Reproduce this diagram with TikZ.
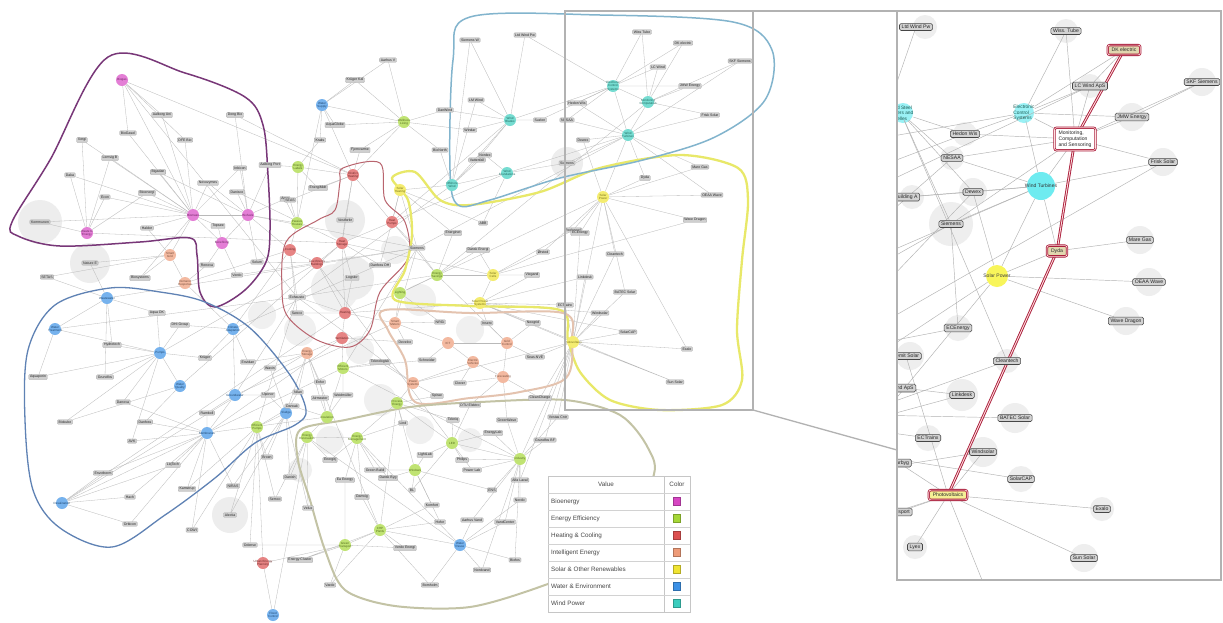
\documentclass[tikz,border=0pt]{standalone}
\usepackage{fontspec}
\setmainfont{Liberation Sans}
\pgfdeclarelayer{back}
\pgfdeclarelayer{bg}
\pgfdeclarelayer{hullay}
\pgfsetlayers{back,bg,hullay,main}
\definecolor{cbio}{RGB}{215,70,195}
\definecolor{ceff}{RGB}{165,215,55}
\definecolor{cheat}{RGB}{220,80,80}
\definecolor{cint}{RGB}{238,155,120}
\definecolor{csol}{RGB}{240,228,50}
\definecolor{cwat}{RGB}{60,145,230}
\definecolor{cwin}{RGB}{60,205,190}
\definecolor{cwinp}{RGB}{110,235,240}
\definecolor{csolp}{RGB}{248,245,90}
\definecolor{hbio}{RGB}{120,55,120}
\definecolor{hwat}{RGB}{95,130,180}
\definecolor{hheat}{RGB}{185,100,110}
\definecolor{hsol}{RGB}{232,232,105}
\definecolor{hwin}{RGB}{130,180,205}
\definecolor{hint}{RGB}{228,195,175}
\definecolor{heff}{RGB}{195,195,165}
\definecolor{redbox}{RGB}{170,30,60}
\definecolor{beige}{RGB}{225,215,175}
\definecolor{pvyel}{RGB}{245,240,150}
\begin{document}
\begin{tikzpicture}[x=1pt,y=-1pt,
 gn/.style={draw=gray!70, line width=0.3pt, fill=gray!38, rounded corners=0.8pt, font=\fontsize{3.5}{3.8}\selectfont, inner xsep=1.2pt, inner ysep=0.9pt, text=black!85},
 lnk/.style={draw=gray!55, line width=0.3pt},
 hub/.style={circle, inner sep=0pt, minimum size=12pt},
 hubtxt/.style={font=\fontsize{3}{3.4}\selectfont, align=center, inner sep=0pt},
 pn/.style={draw=gray!55!black, line width=0.55pt, fill=gray!35, rounded corners=1.5pt, font=\fontsize{5.1}{5.6}\selectfont, inner xsep=2.2pt, inner ysep=1.6pt, text=black!85},
 plnk/.style={draw=gray!60, line width=0.45pt},
 rb/.style={draw=redbox, line width=0.8pt, double=pink!50, double distance=0.7pt, rounded corners=2pt, font=\fontsize{5.1}{5.9}\selectfont, inner xsep=4pt, inner ysep=3pt, text=black!85, align=left},
 zl/.style={draw=gray!60, line width=1.3pt},
 lg/.style={font=\fontsize{6.3}{7}\selectfont, text=gray!55!black, inner sep=0pt, anchor=west}
]
\useasboundingbox (0,0) rectangle (1223,622);
\begin{pgfonlayer}{back}
\fill[white] (0,0) rectangle (1223,622);
\foreach \x/\y/\r in {335/288/24, 300/330/16, 262/315/14, 395/250/14, 420/300/16, 470/330/14, 380/400/16, 330/440/14, 420/430/14, 300/470/12, 470/440/12, 360/350/14}
 \fill[gray!12] (\x,\y) circle[radius=\r pt];
\end{pgfonlayer}

% ---------- hubs ----------
\foreach \n/\x/\y/\cc/\lab in {
b1/122/80/cbio/Biogas, b2/193/215/cbio/Biomass, b3/248/215/cbio/Biofuels, b4/222/243/cbio/Biorefining, b5/87/233/cbio/{Waste to\\Energy},
h1/353/175/cheat/{District\\Heating}, h2/392/222/cheat/{Heat\\Pumps}, h3/342/243/cheat/{Heat\\Storage}, h4/290/250/cheat/Cooling, h5/317/263/cheat/{Low-Energy\\Buildings}, h6/345/313/cheat/Heating, h7/342/338/cheat/Ventilation, h8/263/563/cheat/{Urban Energy\\Planning},
i1/170/255/cint/{Smart\\Grid}, i2/185/283/cint/{Demand\\Response}, i3/307/353/cint/{Energy\\Storage}, i4/395/323/cint/{Smart\\Meters}, i5/448/343/cint/ICT, i6/507/343/cint/{Grid\\Control}, i7/473/362/cint/{Electric\\Vehicles}, i8/503/377/cint/Forecasting, i9/413/383/cint/{Power\\Systems},
e1/437/275/ceff/{Energy\\Savings}, e2/343/368/ceff/{Efficient\\Motors}, e3/400/293/ceff/Lighting, e4/397/403/ceff/{Process\\Energy}, e5/327/417/ceff/Insulation, e6/307/437/ceff/{Energy\\Renovation}, e7/357/438/ceff/{Energy\\Management}, e8/452/443/ceff/LED, e9/404/122/ceff/{Wellness\\Living}, e10/298/167/ceff/{Energy\\Labels}, e11/297/223/ceff/{Passive\\Houses}, e12/257/427/ceff/{Efficient\\Pumps}, e14/520/459/ceff/Industry, e15/380/530/ceff/{CHP\\Plants}, e16/345/545/ceff/{Green\\Transport}, e17/415/470/ceff/Windows,
s1/400/190/csol/{Solar\\Heating}, s2/493/275/csol/{Solar\\Cells}, s3/480/303/csol/{Solar Power\\Systems}, s4/573/342/csol/Photovoltaics, s5/603/197/csol/{Solar\\Power},
w1/322/105/cwat/{Water\\Supply}, w2/107/298/cwat/Wastewater, w3/55/329/cwat/{Water\\Treatment}, w4/160/353/cwat/Pumps, w5/180/386/cwat/{Water\\Quality}, w6/233/329/cwat/{Climate\\Adaptation}, w7/235/395/cwat/Groundwater, w8/286/413/cwat/Sludge, w9/207/433/cwat/Membranes, w10/62/503/cwat/Desalination, w11/273/615/cwat/{Flood\\Control}, w12/460/545/cwat/{Water\\Reuse},
c1/452/185/cwin/{Offshore\\Wind}, c2/507/173/cwin/{Wind\\Foundations}, c3/613/86/cwin/{Electronic\\Control\\Systems}, c4/648/102/cwin/{Monitoring\\Computation}, c5/628/135/cwin/{Wind\\Turbines}, c6/510/120/cwin/{Wind\\Blades}}
{
 \node[hub, fill=\cc!70] (\n) at (\x,\y) {};
 \node[hubtxt, text=\cc!50!black] at (\n) {\lab};
}

% ---------- gray nodes ----------
\foreach \x/\y/\na/\nb/\lab/\hs [count=\i] in {
162/115/b2/b1/Aalborg Uni/0, 235/115/b3/h1/Dong Bio/0, 128/133/b2/b1/BioGasol/0, 82/140/b2/b5/Xergi/0, 185/140/b2/b1/DFE Bio/0, 110/158/b2/b5/Lemvig B/0, 158/172/b2/b3/Bigadan/0, 70/175/b2/b5/Daka/0, 208/183/b2/b3/Novozymes/0, 240/168/b3/b2/Inbicon/0, 147/193/b2/b5/Bioenergi/0, 237/192/b3/h3/Danisco/0, 105/197/b5/b2/Econ/0, 40/222/b5/b2/Kommunen/22, 147/228/b2/i1/Haldor/0, 218/226/b2/b4/Topsøe/0, 90/263/i1/w2/Nature E/20, 47/277/i1/w2/SETAS/0, 140/278/i1/b2/Biosystems/0, 207/265/b4/i2/Renova/0, 237/275/b4/h5/Verdo/0, 257/262/b3/h5/Solum/0, 285/199/b3/e11/Agro/0,
157/313/w4/w2/Aqua DK/0, 180/325/w4/w6/DHI Group/0, 112/345/w2/w4/Hydrotech/0, 38/377/w4/w3/Aquaporin/0, 105/377/w2/w4/Grundfos/0, 205/358/w6/w4/Krüger/0, 248/362/w6/i3/Envidan/0, 123/402/w4/w9/Danova/0, 65/422/w5/w4/Biokube/0, 145/422/w9/w5/Danfoss/0, 207/413/w9/w7/Ramboll/0, 132/441/w9/w4/AVK/0, 173/465/w9/w10/LiqTech/0, 103/473/w10/w9/Envotherm/0, 130/497/w9/w10/Hach/0, 187/489/w9/e12/Kamstrup/0, 233/486/w8/w9/NIRAS/0, 130/524/w10/w9/Orbicon/0, 192/530/w9/e12/COWI/0, 230/515/w8/e12/Alectia/18, 267/457/e12/w8/Broen/0, 290/477/w8/e6/Danish/0, 275/499/e12/e6/Semco/0, 308/508/e6/w8/Velux/0, 270/368/w8/i3/Wavin/0, 268/395/w8/w7/Uponor/0, 298/392/i3/w8/Nilan/0,
318/188/h1/e10/EnergiMidt/0, 290/200/h1/e11/SEAS/0, 345/220/h1/h3/Vestforbr/20, 453/233/s1/e1/Energinet/0, 483/223/c2/s1/ABB/0, 417/248/h2/e1/Siemens/0, 478/250/e1/s2/Dansk Energi/0, 543/252/s2/s5/Ørsted/0, 380/265/h3/h2/Danfoss DH/0, 352/278/h3/h6/Logstor/22, 532/275/s2/s3/Viegand/0, 297/297/h4/h6/Exhausto/0, 297/313/h4/h6/Sweco/0, 440/322/i4/e3/NRGi/0, 487/323/s3/i6/Insero/0, 533/323/s3/i6/Neogrid/0, 573/230/s5/s2/Rockwool/0, 477/160/c1/c6/Vattenfall/0, 405/342/i4/h7/Develco/0, 427/360/i5/e2/Schneider/0, 535/357/i6/s4/Seas-NVE/0, 380/362/e2/i9/Teknologisk/0, 320/382/i3/e5/Enfor/0, 343/395/e2/e5/Weidmüller/0, 437/396/i9/e4/Spirae/0, 460/383/i7/i8/Clever/0, 540/398/i8/s4/CleanCharge/0, 470/405/e8/i8/DTU Elektro/0, 453/420/e8/e4/Tekniq/0, 507/420/e14/i8/GreenWave/0, 403/423/e4/e7/Lind/0, 493/433/e8/e14/EnergyLab/0, 558/417/s4/e14/Vestas Cntr/0, 292/406/e5/e12/Danvak/0, 320/398/e5/i3/Airmaster/0,
320/140/w1/e10/Kraks/0, 360/150/h1/e9/Fjernvarme/0, 440/150/e9/c1/BioNorth/0, 470/130/c6/e9/Windar/0, 445/110/e9/c6/DanWind/0, 335/125/w1/e9/AquaGlobe/0, 388/60/e9/w1/Aarhus V/0, 355/80/w1/e9/Krüger Kal/0, 270/165/e10/b3/Aalborg Port/0,
470/40/c6/c1/Siemens W/0, 525/35/c6/c3/Ltd Wind Pw/0, 476/100/c6/c1/LM Wind/0, 485/155/c1/c2/Nordex/0, 540/120/c6/c3/Suzlon/0, 642/32/c3/c4/Wiss Tube/0, 683/43/c4/c3/DK electric/0, 740/61/c4/c5/SKF Siemens/0, 658/67/c3/c4/LC Wind/0, 690/86/c4/c3/JMW Energy/0, 577/103/c3/c5/Hedon Wis/0, 567/120/c5/c3/NESAA/0, 710/115/c4/c5/Frisk Solar/0, 583/140/c5/s5/Dewex/0, 567/163/c5/c2/Siemens/16,
645/178/c5/s5/Dyda/0, 700/167/s5/c5/Mare Gas/0, 712/195/s5/c5/OEAA Wave/0, 695/220/s5/s2/Wave Dragon/0, 580/233/s5/s4/ECEnergy/0, 615/254/s4/s5/Cleantech/0, 585/277/s4/s3/Linkdesk/0, 625/292/s4/s5/BATEC Solar/0, 600/313/s4/s3/Windsolar/0, 628/332/s4/s3/SolarCAP/0, 687/349/s4/s5/Exalo/0, 675/382/s4/s3/Sun Solar/0, 565/305/s3/s4/ECTrainx/0,
330/460/e6/e7/Energitj/0, 345/480/e7/e16/Ea Energy/0, 362/497/e7/e15/Damvig/0, 388/478/e17/e7/Dansk Byg/0, 412/490/e17/e8/BL/0, 432/505/e17/e15/Komfort/0, 472/470/e8/e14/Power Lab/0, 492/490/e14/e17/ENS/0, 440/522/e15/e17/Hofor/0, 472/520/e14/w12/Aarhus Vand/0, 505/522/e14/w12/VandCenter/0, 405/548/e15/e16/Verdo Energi/0, 430/585/e15/w12/Bornholm/0, 482/570/w12/e14/Nordvand/0, 515/560/w12/e14/Biofos/0, 375/470/e7/e17/Green Build/0, 425/455/e8/e17/LightLab/0, 462/460/e8/e14/Philips/0, 250/545/e16/e12/Odense/0, 300/560/e16/e15/Energy Cluster/0, 330/585/e16/e15/Varde/0, 520/480/e14/s4/Alfa Laval/0, 545/440/e14/s4/Grundfos BF/0, 520/500/e14/w12/Nordic/0}
{
 \node[gn] (g\i) at (\x,\y) {\lab};
 \ifnum\hs>0 \begin{pgfonlayer}{back}\fill[gray!14] (\x,\y) circle[radius=\hs pt];\end{pgfonlayer}\fi
 \begin{pgfonlayer}{bg}\draw[lnk] (g\i) -- (\na) (g\i) -- (\nb);\end{pgfonlayer}
}

% ---------- extra connections ----------
\begin{pgfonlayer}{bg}
\foreach \p/\q in {h1/h2, h1/h3, h2/h3, h3/h5, h4/h5, h5/h6, h6/h7, h3/h6, h2/e1, h2/s1, h6/i4, h7/i3, h7/e2, i4/i5, i5/i6, i5/i7, i6/i8, i7/i8, i9/e4, i4/e3, e1/s2, s2/s3, s3/s4, s1/c1, c1/c2, c2/c5, c5/c3, c3/c4, c4/c5, s5/c5, s5/s4, w6/w7, w7/w9, w4/w5, w2/w3, w3/w4, w9/w10, b2/b3, b2/b4, b3/b4, b1/b2, i1/i2, i1/b2, i2/w6, w6/h4, h4/b3, e10/e11, e11/h4, e2/e5, e5/e6, e6/e7, e7/e4, e4/e8, e8/e14, e14/s4, e17/e4, e15/e16, e16/h8, h8/w11, w11/e6, w12/e15, e12/w8, e9/w1, e9/h1, w1/h1, s1/h2, i3/w8, e3/e1, e3/h6, c6/c1, c6/c3, i9/i7, h1/e10, b3/e11, g56/h5, g56/i4, g56/w6, g56/e2, g56/b3, g56/s1, g62/w7, g62/e12, g62/i9, g62/e1, h3/w5, h5/w4, h2/c2, h6/s3, e1/i6, e2/w9, h1/b1, h3/b5, i3/w10, e7/w12, i9/s4, e3/s5, e4/e15, h4/i2, e5/w9, e12/h8, g62/w3, g56/w2, h6/w10, e2/e14, h5/e8, g62/c1, g56/c5, h3/s2, i3/e15, e6/w12, g62/b1, h2/c6, e1/c4, i4/w7, h7/w9, e11/w1}
 \draw[lnk] (\p) -- (\q);
\end{pgfonlayer}

% ---------- hulls ----------
\begin{pgfonlayer}{hullay}
\draw[hbio, line width=1.5pt] plot[smooth cycle, tension=0.55] coordinates {(108,57) (185,73) (245,97) (263,125) (268,175) (270,230) (266,262) (245,290) (215,307) (200,292) (197,255) (190,238) (140,242) (60,246) (18,236) (12,222) (50,160)};
\draw[hwat, line width=1.3pt] plot[smooth cycle, tension=0.55] coordinates {(110,288) (160,292) (205,302) (250,328) (290,375) (306,410) (295,425) (255,443) (215,478) (165,515) (112,547) (60,528) (33,490) (25,420) (28,350) (55,305)};
\draw[hheat, line width=1pt] plot[smooth cycle, tension=0.55] coordinates {(343,168) (380,163) (385,200) (405,222) (408,258) (380,292) (370,330) (350,347) (317,340) (288,317) (282,290) (286,242) (318,220) (335,210) (340,182)};
\draw[hsol, line width=2.3pt] plot[smooth cycle, tension=0.5] coordinates {(392,178) (415,172) (440,200) (470,205) (540,192) (600,168) (680,155) (738,168) (748,200) (742,260) (737,330) (742,380) (722,405) (660,410) (610,400) (580,372) (568,340) (560,310) (470,306) (395,300) (405,270) (412,235) (408,200)};
\draw[hwin, line width=1.5pt] plot[smooth cycle, tension=0.55] coordinates {(470,17) (600,15) (733,22) (772,50) (765,100) (715,137) (643,160) (560,178) (490,200) (458,205) (450,170) (453,60)};
\draw[hint, line width=2pt] plot[smooth cycle, tension=0.55] coordinates {(385,310) (470,313) (563,313) (572,340) (566,378) (520,392) (470,398) (415,402) (405,360) (388,330)};
\draw[heff, line width=2pt] plot[smooth cycle, tension=0.5] coordinates {(300,430) (345,420) (410,407) (480,402) (565,400) (620,415) (648,448) (652,480) (600,560) (545,585) (470,607) (395,606) (345,590) (325,550) (310,500) (298,460)};
\end{pgfonlayer}

% ---------- legend ----------
\fill[white] (548,476) rectangle (690,612);
\draw[gray!45, line width=0.5pt] (548,476) rectangle (690,612);
\draw[gray!45, line width=0.5pt] (664,476) -- (664,612);
\foreach \k in {1,...,7} \draw[gray!35, line width=0.4pt] (548,476+17*\k) -- (690,476+17*\k);
\node[font=\fontsize{6.3}{7}\selectfont, text=gray!55!black, inner sep=0pt] (lh1) at (606,484.5) {Value};
\node[font=\fontsize{6.3}{7}\selectfont, text=gray!55!black, inner sep=0pt] (lh2) at (677,484.5) {Color};
\foreach \lab/\cc [count=\k] in {Bioenergy/cbio, Energy Efficiency/ceff, Heating \& Cooling/cheat, Intelligent Energy/cint, Solar \& Other Renewables/csol, Water \& Environment/cwat, Wind Power/cwin}
{
 \node[lg] (lt\k) at (551,484.5+17*\k) {\lab};
 \node[draw=\cc!75!black, line width=0.3pt, fill=\cc, minimum width=7pt, minimum height=8pt, inner sep=0pt] (lc\k) at (677,484.5+17*\k) {};
}

% ---------- zoom panel ----------
\begin{pgfonlayer}{back}
\begin{scope}
\clip (897,11) rectangle (1221,580);
\foreach \x/\y/\r in {1066/31/12, 1090/86/12, 1202/82/14, 1132/117/14, 965/134/12, 952/158/12, 1163/162/14, 912/197/12, 973/192/14, 951/224/22, 1140/240/14, 1149/282/14, 1126/321/14, 958/328/13, 910/356/14, 1007/361/12, 962/395/16, 1015/418/15, 928/438/13, 983/452/15, 1021/479/13, 1102/509/12, 1084/558/14, 915/547/12, 925/27/12}
 \fill[gray!13] (\x,\y) circle[radius=\r pt];
\fill[cwinp!70] (1024,113) circle[radius=10pt];
\fill[cwinp!70] (903,113) circle[radius=10pt];
\end{scope}
\end{pgfonlayer}

\begin{scope}
\clip (897,11) rectangle (1221,580);
\foreach \n/\x/\y/\lab in {pA/916/27/Ltd Wind Pw, pB/1066/31/Wiss. Tube, pD/1090/86/LC Wind ApS, pE/1202/82/SKF Siemens, pH/1132/117/JMW Energy, pI/965/134/Hedon Wis, pK/952/158/NESAA, pL/1163/162/Frisk Solar, pM/906/197/Building A, pN/973/192/Dewex, pP/951/224/Siemens, pR/1140/240/Mare Gas, pS/1149/282/OEAA Wave, pU/1126/321/Wave Dragon, pV/958/328/ECEnergy, pW/906/356/Kemit Solar, pX/1007/361/Cleantech, pY/903/388/Vind ApS, pZ/962/395/Linkdesk, pa/1015/418/BATEC Solar, pb/928/438/ECTrainx, pc/983/452/Windsolar, pd/1021/479/SolarCAP, pf/1102/509/Exalo, pg/1084/558/Sun Solar, ph/915/547/Lyex, pi/899/463/Solarbyg, pj/899/512/Transport}
 \node[pn] (\n) at (\x,\y) {\lab};
\node[rb, fill=beige] (pC) at (1124,50) {DK electric};
\node[rb, fill=white] (pJ) at (1075,139) {Monitoring,\\Computation\\and Sensoring};
\node[rb, fill=beige] (pQ) at (1057,251) {Dyda};
\node[rb, fill=pvyel] (pe) at (948,495) {Photovoltaics};
\node[circle, fill=cwinp, minimum size=28pt, inner sep=0pt] (pO) at (1041,186) {};
\node[font=\fontsize{5}{5.5}\selectfont, text=black!80, inner sep=0pt] (pOt) at (pO) {Wind Turbines};
\node[circle, fill=csolp, minimum size=22pt, inner sep=0pt] (pT) at (997,276) {};
\node[font=\fontsize{5}{5.5}\selectfont, text=black!75, inner sep=0pt] (pTt) at (pT) {Solar Power};
\node[font=\fontsize{4.8}{5.4}\selectfont, text=cwin!45!black, align=left, inner sep=0pt] (pF) at (1024,113) {Electronic\\Control\\Systems};
\node[font=\fontsize{4.8}{5.4}\selectfont, text=cwin!45!black, align=left, inner sep=0pt] (pG) at (901,113) {Wind Steel\\Towers and\\Nacelles};
\end{scope}

\foreach \n/\x/\y in {q1/870/160, q2/870/190, q3/870/140, q4/870/170, q5/870/230, q6/870/330, q7/870/300, q8/870/260, q9/870/270, q10/870/430, q11/870/360, q12/870/345, q13/870/410, q14/870/420, q15/870/415, q16/870/430, q17/870/470, q18/870/455, q19/990/600, q20/870/520}
 \coordinate (\n) at (\x,\y);

\begin{pgfonlayer}{bg}
\begin{scope}
\clip (897,11) rectangle (1221,580);
\foreach \p/\q in {pA/q1, pB/pF, pB/pJ, pC/pF, pC/pD, pD/pF, pD/pJ, pD/q2, pE/pJ, pE/pH, pF/pI, pF/pO, pF/pH, pF/q3, pF/pJ, pG/pI, pG/pK, pG/pN, pG/pP, pG/pX, pH/pJ, pI/pJ, pI/q4, pK/pO, pK/q5, pK/pJ, pL/pJ, pL/pO, pL/q6, pM/pN, pN/pO, pN/pT, pN/q7, pO/pQ, pO/pT, pO/pP, pO/q8, pO/pJ, pP/q9, pP/pJ, pQ/pR, pQ/pT, pT/pS, pT/pU, pT/q10, pT/q11, pV/q12, pV/pP, pX/q13, pZ/q14, pa/q15, pb/q16, pc/pe, pc/q17, pd/q18, pe/pf, pe/pg, pe/ph, pe/q19, pe/q20, pW/pe, pi/pe, pj/pe, pM/pO, pY/pZ}
 \draw[plnk] (\p) -- (\q);
\end{scope}
\end{pgfonlayer}

\begin{pgfonlayer}{hullay}
\begin{scope}
\clip (897,11) rectangle (1221,580);
\foreach \p/\q in {pC/pJ, pJ/pQ, pQ/pe}
 \draw[redbox, line width=0.9pt, double=pink!55, double distance=0.9pt] (\p) -- (\q);
\end{scope}
\end{pgfonlayer}

% ---------- zoom frames ----------
\coordinate (zA) at (565,11);
\coordinate (zB) at (753,11);
\coordinate (zC) at (753,410);
\coordinate (zD) at (565,410);
\coordinate (pnA) at (897,11);
\coordinate (pnB) at (1221,11);
\coordinate (pnC) at (1221,580);
\coordinate (pnD) at (897,580);
\coordinate (pnE) at (897,450);
\draw[zl] (zA) -- (zB) -- (zC) -- (zD) -- cycle;
\draw[zl] (pnA) -- (pnB) -- (pnC) -- (pnD) -- cycle;
\draw[zl] (zB) -- (pnA);
\draw[zl] (zC) -- (pnE);
\end{tikzpicture}
\end{document}
